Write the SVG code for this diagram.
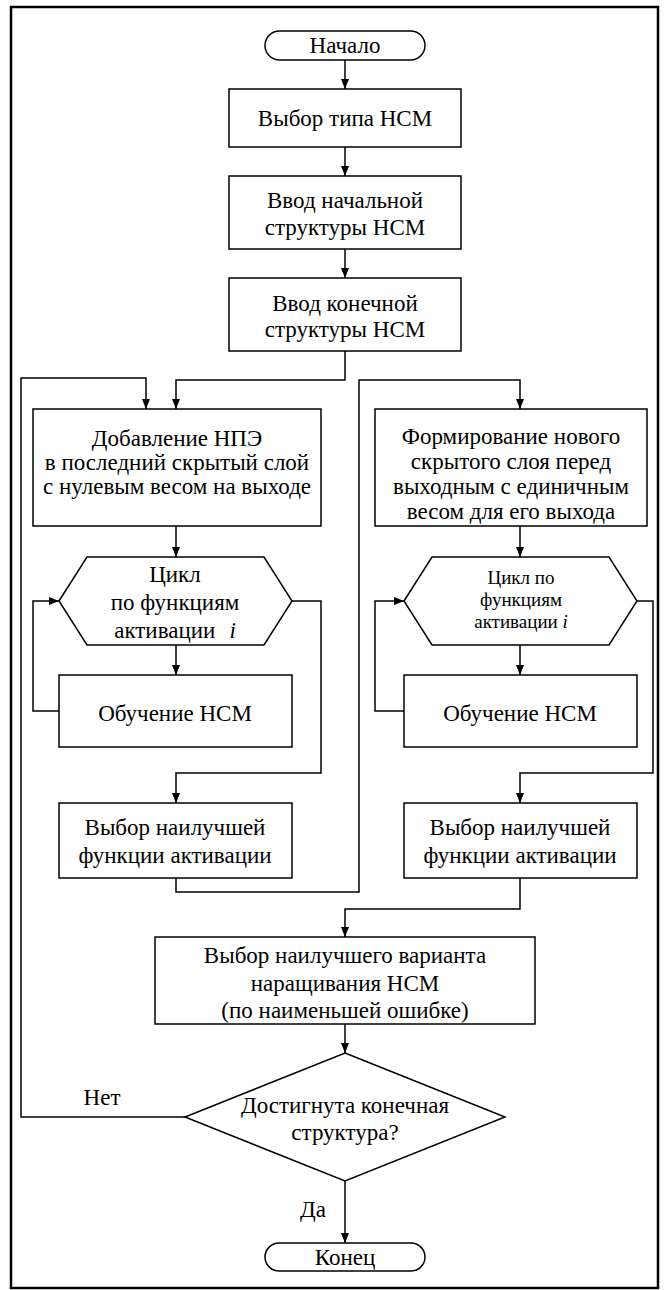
<svg xmlns="http://www.w3.org/2000/svg" width="665" height="1290" viewBox="0 0 665 1290">
<defs>
<marker id="ah" markerUnits="userSpaceOnUse" markerWidth="10" markerHeight="8" refX="10" refY="4" orient="auto">
<path d="M0,0 L10,4 L0,8 z" fill="#000"/>
</marker>
<style>
.n{fill:#fff;stroke:#000;stroke-width:1.5}
.c{fill:none;stroke:#000;stroke-width:1.5}
.a{marker-end:url(#ah)}
text{font-family:"Liberation Serif","Times New Roman","DejaVu Serif",serif;font-size:23px;text-anchor:middle;dominant-baseline:central;fill:#000}
.s{font-size:19px}
.i{font-style:italic}
</style>
</defs>
<rect x="11" y="7" width="647" height="1281" fill="#fff" stroke="#000" stroke-width="2.5"/>
<g id="connectors">
<path class="c a" d="M345,60 V89"/>
<path class="c a" d="M345,147 V176"/>
<path class="c a" d="M345,249 V278"/>
<path class="c a" d="M345,351 V380 H176 V409"/>
<path class="c a" d="M185,1117 H21 V378 H146 V409"/>
<path class="c a" d="M176,526 V557"/>
<path class="c a" d="M520,526 V557"/>
<path class="c a" d="M176,645 V675"/>
<path class="c a" d="M520,645 V675"/>
<path class="c a" d="M59,711 H33 V601 H59"/>
<path class="c a" d="M404,711 H375 V601 H404"/>
<path class="c a" d="M292,601 H321 V773 H176 V803"/>
<path class="c a" d="M637,601 H653 V773 H520 V803"/>
<path class="c a" d="M176,878 V892 H359 V380 H520 V409"/>
<path class="c a" d="M520,878 V909 H345 V937"/>
<path class="c a" d="M345,1024 V1053"/>
<path class="c a" d="M345,1181 V1243"/>
<text x="102" y="1097">Нет</text>
<text x="313" y="1209">Да</text>
</g>
<g id="start">
<rect class="n" x="265" y="31" width="160" height="29" rx="14.5"/>
<text x="345" y="45.5">Начало</text>
</g>
<g id="type">
<rect class="n" x="229" y="89" width="232" height="58"/>
<text x="345" y="118">Выбор типа НСМ</text>
</g>
<g id="initial">
<rect class="n" x="229" y="176" width="232" height="73"/>
<text x="345" y="200">Ввод начальной</text>
<text x="345" y="227">структуры НСМ</text>
</g>
<g id="final">
<rect class="n" x="229" y="278" width="232" height="73"/>
<text x="345" y="303">Ввод конечной</text>
<text x="345" y="329">структуры НСМ</text>
</g>
<g id="add">
<rect class="n" x="33" y="409" width="288" height="117"/>
<text x="177" y="438">Добавление НПЭ</text>
<text x="177" y="462">в последний скрытый слой</text>
<text x="177" y="486">с нулевым весом на выходе</text>
</g>
<g id="form">
<rect class="n" x="375" y="409" width="272" height="117"/>
<text x="511" y="436">Формирование нового</text>
<text x="511" y="461">скрытого слоя перед</text>
<text x="511" y="486">выходным с единичным</text>
<text x="511" y="511">весом для его выхода</text>
</g>
<g id="loop1">
<polygon class="n" points="59,601 87,557 264,557 292,601 264,645 87,645"/>
<text x="175" y="574">Цикл</text>
<text x="175" y="602">по функциям</text>
<text x="175" y="630">активации<tspan class="i" dx="14">i</tspan></text>
</g>
<g id="loop2">
<polygon class="n" points="404,601 432,557 609,557 637,601 609,645 432,645"/>
<text class="s" x="521" y="577">Цикл по</text>
<text class="s" x="521" y="599">функциям</text>
<text class="s" x="521" y="621">активации <tspan class="i">i</tspan></text>
</g>
<g id="train1">
<rect class="n" x="59" y="675" width="233" height="72"/>
<text x="175" y="713">Обучение НСМ</text>
</g>
<g id="train2">
<rect class="n" x="404" y="675" width="233" height="72"/>
<text x="520" y="713">Обучение НСМ</text>
</g>
<g id="best1">
<rect class="n" x="59" y="803" width="233" height="75"/>
<text x="175" y="827">Выбор наилучшей</text>
<text x="175" y="855">функции активации</text>
</g>
<g id="best2">
<rect class="n" x="404" y="803" width="233" height="75"/>
<text x="520" y="827">Выбор наилучшей</text>
<text x="520" y="855">функции активации</text>
</g>
<g id="variant">
<rect class="n" x="155" y="937" width="380" height="87"/>
<text x="345" y="955">Выбор наилучшего варианта</text>
<text x="345" y="983">наращивания НСМ</text>
<text x="345" y="1010">(по наименьшей ошибке)</text>
</g>
<g id="decision">
<polygon class="n" points="345,1053 505,1117 345,1181 185,1117"/>
<text x="345" y="1105">Достигнута конечная</text>
<text x="345" y="1132">структура?</text>
</g>
<g id="end">
<rect class="n" x="265" y="1243" width="160" height="28" rx="14"/>
<text x="345" y="1257">Конец</text>
</g>
</svg>
